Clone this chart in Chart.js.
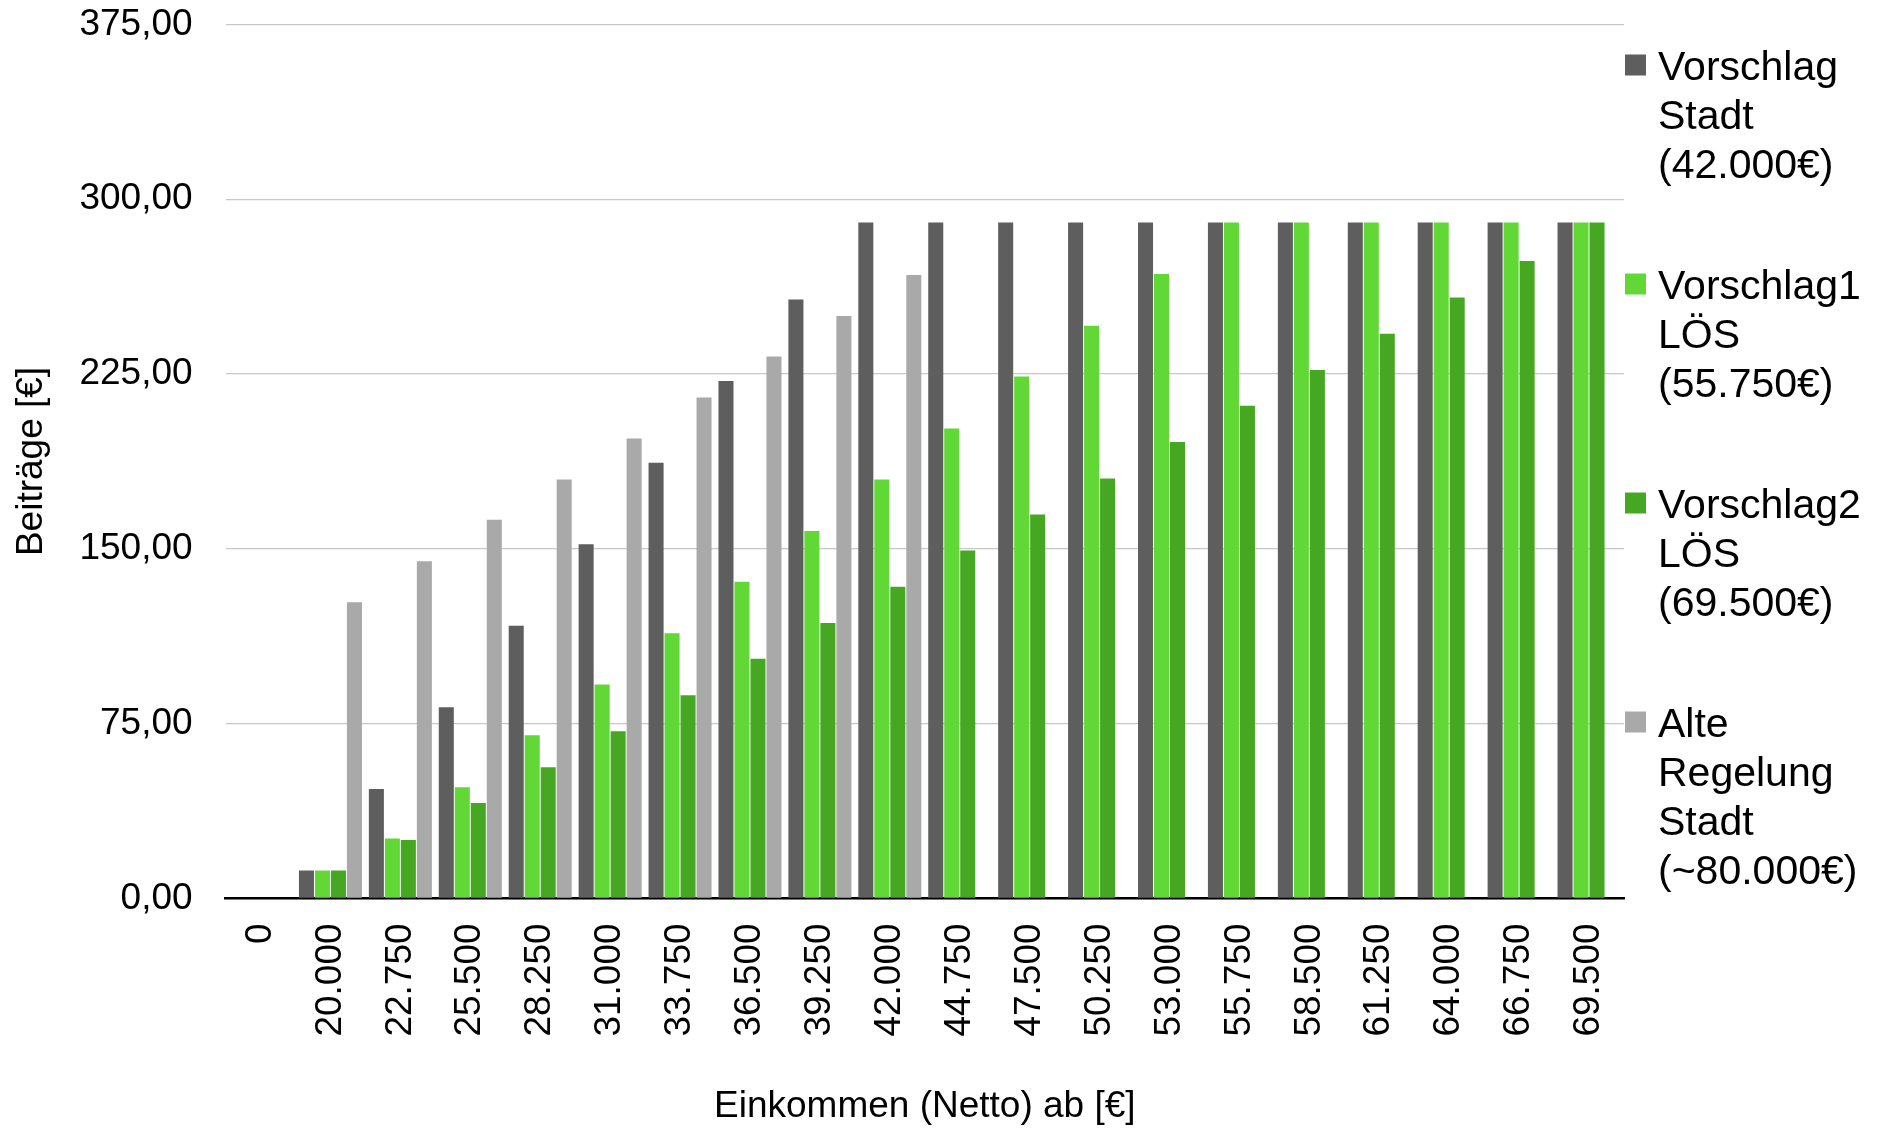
<!DOCTYPE html>
<html lang="de">
<head>
<meta charset="utf-8">
<title>Beiträge nach Einkommen</title>
<script src="https://cdn.jsdelivr.net/npm/chart.js@4.4.1/dist/chart.umd.min.js"></script>
<style>
  html, body { margin: 0; padding: 0; background: #ffffff; }
  canvas { display: block; }
</style>
</head>
<body>
<canvas id="beitraege" width="1887" height="1133"></canvas>
<script>
// Einkommensstufen (Netto, ab)
const incomeLabels = ['0', '20.000', '22.750', '25.500', '28.250', '31.000', '33.750', '36.500',
  '39.250', '42.000', '44.750', '47.500', '50.250', '53.000', '55.750', '58.500',
  '61.250', '64.000', '66.750', '69.500'];

// Monatliche Beiträge je Modell [€]
const vorschlagStadt = [0, 12, 47, 82, 117, 152, 187, 222, 257, 290, 290, 290, 290, 290, 290, 290, 290, 290, 290, 290];
const vorschlag1Loes = [0, 12, 25.7, 47.7, 70, 91.8, 113.8, 135.9, 157.7, 179.8, 201.6, 224, 245.7, 267.9, 290, 290, 290, 290, 290, 290];
const vorschlag2Loes = [0, 12, 25.1, 40.9, 56.3, 71.7, 87.2, 102.8, 118.2, 133.7, 149.3, 164.7, 180.2, 195.8, 211.4, 226.7, 242.3, 257.9, 273.5, 290];
const alteRegelung = [0, 127.1, 144.7, 162.5, 179.8, 197.4, 215, 232.5, 249.9, 267.5, null, null, null, null, null, null, null, null, null, null];

// Beschriftungen
const yTickLabels = ['0,00', '75,00', '150,00', '225,00', '300,00', '375,00'];
const seriesNames = [
  ['Vorschlag', 'Stadt', '(42.000€)'],
  ['Vorschlag1', 'LÖS', '(55.750€)'],
  ['Vorschlag2', 'LÖS', '(69.500€)'],
  ['Alte', 'Regelung', 'Stadt', '(~80.000€)']
];
const seriesColors = ['#5e5e5e', '#62d836', '#46a822', '#a9a9a9'];

const FONT = '"Liberation Sans", Arial, sans-serif';

// Legende rechts neben dem Diagramm, mehrzeilige Einträge
const sideLegend = {
  id: 'sideLegend',
  afterDraw(chart) {
    const { ctx, chartArea } = chart;
    ctx.save();
    ctx.font = '41px ' + FONT;
    ctx.textBaseline = 'alphabetic';
    ctx.textAlign = 'left';
    chart.data.datasets.forEach((ds, i) => {
      const x = chartArea.right + 1;
      const top = chartArea.top + 30 + i * 219;
      ctx.fillStyle = ds.backgroundColor;
      ctx.fillRect(x, top, 21, 21);
      ctx.fillStyle = '#000000';
      seriesNames[i].forEach((line, j) => {
        ctx.fillText(line, x + 33, top + 25 + j * 49.3);
      });
    });
    ctx.restore();
  }
};

const seriesData = [vorschlagStadt, vorschlag1Loes, vorschlag2Loes, alteRegelung];

new Chart(document.getElementById('beitraege'), {
  type: 'bar',
  data: {
    labels: incomeLabels,
    datasets: seriesData.map((values, i) => ({
      label: seriesNames[i].join(' '),
      data: values,
      backgroundColor: seriesColors[i],
      borderWidth: 0,
      categoryPercentage: 0.915,
      barPercentage: 0.94
    }))
  },
  options: {
    responsive: false,
    animation: false,
    devicePixelRatio: 1,
    layout: { padding: { top: 24.5, right: 263, bottom: 0, left: 0 } },
    plugins: {
      legend: { display: false },
      tooltip: { enabled: false },
      title: { display: false }
    },
    scales: {
      x: {
        grid: { display: false, drawTicks: false },
        border: { display: true, color: '#000000', width: 2.5 },
        ticks: {
          autoSkip: false,
          minRotation: 90,
          maxRotation: 90,
          padding: 25,
          color: '#000000',
          font: { family: FONT, size: 37 }
        },
        title: {
          display: true,
          text: 'Einkommen (Netto) ab [€]',
          color: '#000000',
          font: { family: FONT, size: 37 },
          padding: { top: 23, bottom: 4 }
        }
      },
      y: {
        min: 0,
        max: 375,
        afterFit(scale) {
          // the top label may overhang the plot edge
          scale.paddingTop = 0;
          scale.paddingBottom = 0;
        },
        grid: { color: '#c8c8c8', lineWidth: 1.3, drawTicks: false },
        border: { display: false },
        ticks: {
          stepSize: 75,
          padding: 33,
          color: '#000000',
          font: { family: FONT, size: 37 },
          callback: (value, index) => yTickLabels[index]
        },
        title: {
          display: true,
          text: 'Beiträge [€]',
          color: '#000000',
          font: { family: FONT, size: 37 },
          padding: { top: 10, bottom: -8 }
        }
      }
    }
  },
  plugins: [sideLegend]
});
</script>
</body>
</html>
